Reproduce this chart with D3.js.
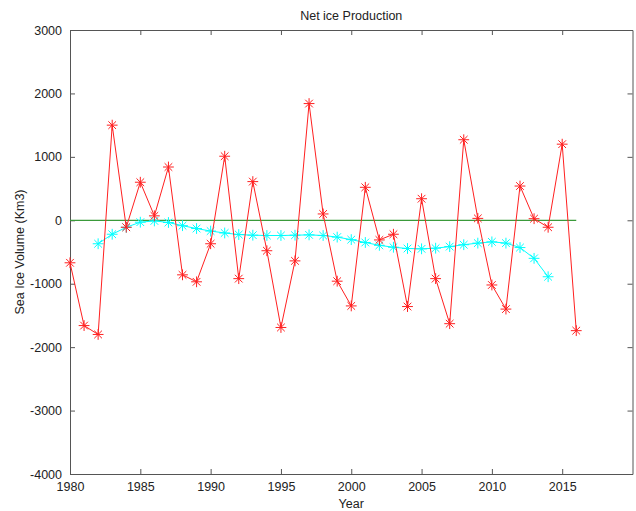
<!DOCTYPE html>
<html><head><meta charset="utf-8">
<script src="https://cdn.jsdelivr.net/npm/d3@7"></script>
<style>body{margin:0;background:#fff}svg{display:block}text{font-family:"Liberation Sans",Arial,sans-serif;fill:#222}</style>
</head><body><svg id="c" width="636" height="511"></svg>
<script>
const years = d3.range(1980, 2017);
const netProd = [-670,-1660,-1800,1500,-110,600,70,840,-860,-970,-370,1010,-920,610,-480,-1690,-640,1840,100,-960,-1350,520,-310,-220,-1360,340,-920,-1630,1270,30,-1020,-1400,540,25,-110,1200,-1740];
const smoothYears = d3.range(1982, 2015);
const smoothProd = [-370,-220,-110,-30,-10,-35,-85,-130,-170,-200,-225,-235,-240,-240,-235,-230,-240,-265,-305,-350,-395,-425,-445,-450,-440,-415,-385,-360,-340,-360,-430,-600,-890];
const xTicks = [1980,1985,1990,1995,2000,2005,2010,2015];
const yTicks = [-4000,-3000,-2000,-1000,0,1000,2000,3000];
const zeroYears = [1980, 2016];

const L=70,R=632.5,T=30,B=474;
const svg=d3.select("#c");
const x=d3.scaleLinear().domain([1980,2020]).range([L,R]);
const y=d3.scaleLinear().domain([-4000,3000]).range([B,T]);
const fs="12.5px";
const fmt=d=>String(d);

// axes box
const ax=svg.append("g");
ax.append("g").attr("transform",`translate(0,${B})`).call(d3.axisBottom(x).tickValues(xTicks).tickSizeInner(-5).tickSizeOuter(0).tickPadding(8).tickFormat(fmt));
ax.append("g").attr("transform",`translate(0,${T})`).call(d3.axisTop(x).tickValues(xTicks).tickSizeInner(-5).tickSizeOuter(0).tickFormat(""));
ax.append("g").attr("transform",`translate(${L},0)`).call(d3.axisLeft(y).tickValues(yTicks).tickSizeInner(-5).tickSizeOuter(0).tickPadding(8).tickFormat(fmt));
ax.append("g").attr("transform",`translate(${R},0)`).call(d3.axisRight(y).tickValues(yTicks).tickSizeInner(-5).tickSizeOuter(0).tickFormat(""));
ax.selectAll(".domain").attr("stroke","#555");
ax.selectAll(".tick line").attr("stroke","#555");
ax.selectAll(".tick text").attr("font-size",fs).attr("font-family","Liberation Sans, Arial, sans-serif").attr("fill","#222");

// zero line
svg.append("path").datum(zeroYears).attr("fill","none").attr("stroke","#3a9a3a").attr("stroke-width",1.2)
  .attr("d",d3.line().x(d=>x(d)).y(()=>y(0)));

const star = d=>{ const p=d3.symbol().type(d3.symbolPlus).size(40)(); const t=d3.symbol().type(d3.symbolTimes).size(40)(); return p+t; };

function series(xs, vs, color){
  const data=xs.map((d,i)=>[d,vs[i]]);
  svg.append("path").datum(data).attr("fill","none").attr("stroke",color).attr("stroke-width",1)
    .attr("d",d3.line().x(d=>x(d[0])).y(d=>y(d[1])));
  svg.append("g").selectAll("path").data(data).join("path")
    .attr("transform",d=>`translate(${x(d[0])},${y(d[1])})`)
    .attr("d",star).attr("fill","none").attr("stroke",color).attr("stroke-width",1);
}
series(smoothYears, smoothProd, "#00ffff");
series(years, netProd, "#ff2020");

svg.append("text").attr("x",(L+R)/2).attr("y",20).attr("text-anchor","middle").attr("font-size",fs).text("Net ice Production");
svg.append("text").attr("x",(L+R)/2).attr("y",508).attr("text-anchor","middle").attr("font-size",fs).text("Year");
svg.append("text").attr("transform",`translate(24,${(T+B)/2}) rotate(-90)`).attr("text-anchor","middle").attr("font-size",fs).text("Sea Ice Volume (Km3)");
</script></body></html>
